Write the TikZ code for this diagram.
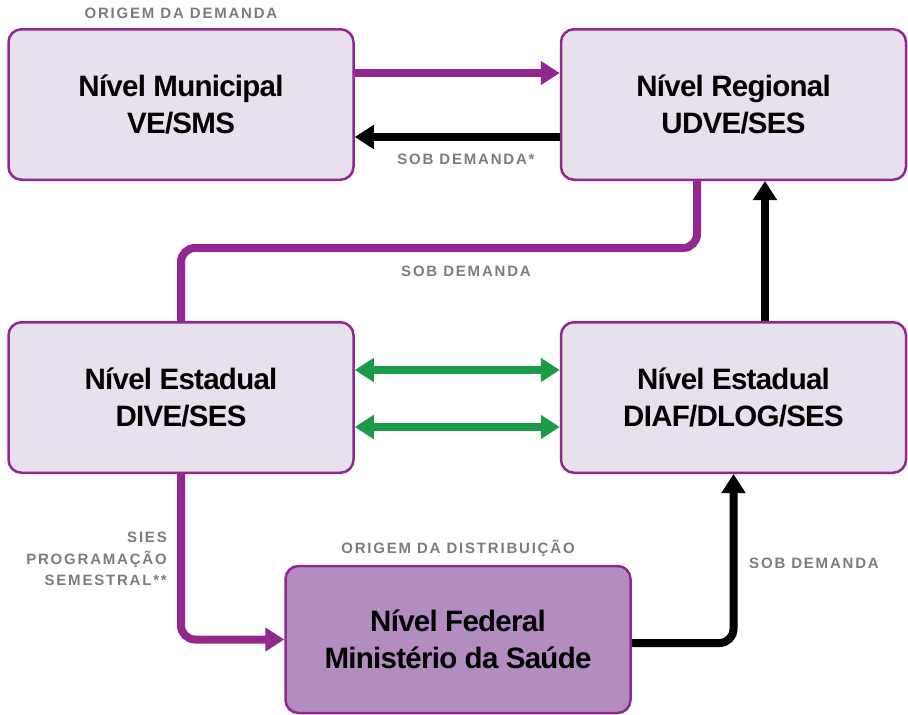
\documentclass[tikz,border=0pt]{standalone}
\usepackage{fontspec}
\setmainfont{Liberation Sans}
\newfontfamily\lblfont[LetterSpace=12]{Liberation Sans}
\newfontfamily\boxfont[LetterSpace=-2.5]{Liberation Sans}
\usetikzlibrary{arrows.meta,calc}
\definecolor{purp}{HTML}{92278F}
\definecolor{boxfill}{HTML}{E8E0EC}
\definecolor{fedfill}{HTML}{B48DC0}
\definecolor{grn}{HTML}{1A9B48}
\definecolor{lblgray}{HTML}{7A7D80}
\begin{document}
\begin{tikzpicture}[x=1pt,y=-1pt,
  box/.style={draw=purp, line width=2.5pt, fill=boxfill, rounded corners=13pt,
    minimum width=345pt, minimum height=150.5pt, align=center, inner sep=0pt,
    font=\boxfont\fontsize{29.5}{36.5}\selectfont\bfseries},
  lbl/.style={text=lblgray, inner sep=0pt, align=center,
    font=\lblfont\fontsize{15}{21.5}\selectfont\bfseries},
  tip/.style={-{Triangle[length=19pt,width=23pt]}},
  parr/.style={draw=purp, line width=8pt, tip},
  barr/.style={draw=black, line width=8pt, tip},
  garr/.style={draw=grn, line width=7.5pt, {Triangle[length=19pt,width=23pt]}-{Triangle[length=19pt,width=23pt]}},
  pline/.style={draw=purp, line width=8pt}]
\useasboundingbox (0,0) rectangle (908,715);

\node[box] (mun) at (181,104.5) {Nível Municipal\\VE/SMS};
\node[box] (reg) at (733.5,104.5) {Nível Regional\\UDVE/SES};
\node[box] (dive) at (181,397.5) {Nível Estadual\\DIVE/SES};
\node[box] (diaf) at (733.5,397.5) {Nível Estadual\\DIAF/DLOG/SES};
\node[box, fill=fedfill, minimum height=147pt] (fed) at (458,639.5) {Nível Federal\\Ministério da Saúde};

\draw[parr] ($(mun.east)+(0,-31.5)$) -- ($(reg.west)+(0,-31.5)$);
\draw[barr] ($(reg.west)+(0,32.5)$) -- ($(mun.east)+(0,32.5)$);
\draw[pline, rounded corners=14pt] ($(reg.south)+(-36.5,0)$) -- ++(0,67) -| (dive.north);
\draw[garr] ($(dive.east)+(0,-27.5)$) -- ($(diaf.west)+(0,-27.5)$);
\draw[garr] ($(dive.east)+(0,29.5)$) -- ($(diaf.west)+(0,29.5)$);
\draw[barr] ($(diaf.north)+(31.5,0)$) -- ($(reg.south)+(31.5,0)$);
\draw[parr, rounded corners=14pt] (dive.south) |- (fed.west);
\draw[barr, rounded corners=14pt] ($(fed.east)+(0,3.5)$) -| (diaf.south);

\node[lbl] (l1) at (181,13) {ORIGEM DA DEMANDA};
\node[lbl] (l2) at (466,159) {SOB DEMANDA*};
\node[lbl] (l3) at (466,271) {SOB DEMANDA};
\node[lbl, anchor=east, align=right] (l4) at (167,559) {SIES\\PROGRAMAÇÃO\\SEMESTRAL**};
\node[lbl] (l5) at (458,548) {ORIGEM DA DISTRIBUIÇÃO};
\node[lbl] (l6) at (814,563) {SOB DEMANDA};
\end{tikzpicture}
\end{document}
